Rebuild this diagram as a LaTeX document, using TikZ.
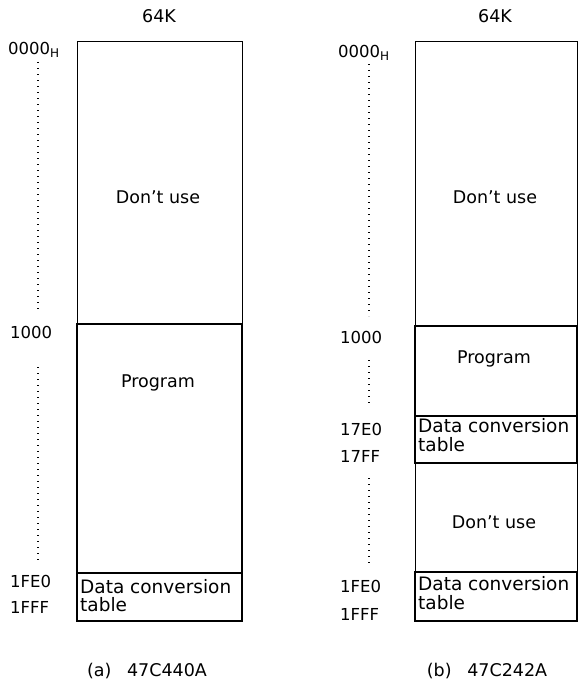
\documentclass[tikz,border=0pt]{standalone}
\usepackage{fontspec}
\setmainfont{DejaVu Sans}
\begin{document}
\begin{tikzpicture}[x=1pt,y=-1pt,
  lbl/.style={font=\fontsize{17.5}{19}\selectfont, inner sep=0pt},
  dct/.style={font=\fontsize{18.5}{20}\selectfont, inner sep=0pt, anchor=base west},
  addr/.style={font=\fontsize{16.5}{18}\selectfont, inner sep=0pt, anchor=base west},
  thinbox/.style={line width=1pt},
  thickbox/.style={line width=2pt},
  midbox/.style={line width=1.4pt},
  dots/.style={line width=1.1pt, dash pattern=on 1pt off 5pt}]
\useasboundingbox (0,0) rectangle (579,685);
% ---------- (a) ----------
\node[lbl, anchor=base] (ka) at (159,23) {64K};
\draw[thinbox] (77,42) rectangle (242,324);
\draw[thickbox] (77,324) rectangle (242,621);
\draw[midbox] (77,573) -- (242,573);
\node[lbl, anchor=base] (dua) at (158,203) {Don't use};
\node[lbl, anchor=base] (pa) at (158,387) {Program};
\node[dct] (dca1) at (80,593) {Data conversion};
\node[dct] (dca2) at (80,611) {table};
\node[addr] (a0) at (8,55) {0000\raisebox{-0.3ex}{\fontsize{12}{13}\selectfont H}};
\node[addr] (a1) at (10,338) {1000};
\node[addr] (a2) at (10,587) {1FE0};
\node[addr] (a3) at (10,613) {1FFF};
\coordinate (ad1) at (38,62); \coordinate (ad2) at (38,313);
\coordinate (ad3) at (38,367); \coordinate (ad4) at (38,560);
\draw[dots] (ad1) -- (ad2);
\draw[dots] (ad3) -- (ad4);
\node[lbl, anchor=base] (capa) at (147,676) {(a)\hspace{0.9em}47C440A};
% ---------- (b) ----------
\node[lbl, anchor=base] (kb) at (495,23) {64K};
\draw[thinbox] (415,42) rectangle (577,326);
\draw[thickbox] (415,326) -- (577,326);
\draw[midbox] (415,326) rectangle (577,416);
\draw[midbox] (415,416) rectangle (577,463);
\draw[thinbox] (415,463) rectangle (577,572);
\draw[thickbox] (415,572) rectangle (577,621);
\node[lbl, anchor=base] (dub) at (495,203) {Don't use};
\node[lbl, anchor=base] (pb) at (494,363) {Program};
\node[dct] (dcb1) at (418,432) {Data conversion};
\node[dct] (dcb2) at (418,451) {table};
\node[lbl, anchor=base] (dub2) at (494,528) {Don't use};
\node[dct] (dcb3) at (418,590) {Data conversion};
\node[dct] (dcb4) at (418,609) {table};
\node[addr] (b0) at (338,58) {0000\raisebox{-0.3ex}{\fontsize{12}{13}\selectfont H}};
\node[addr] (b1) at (340,343) {1000};
\node[addr] (b2) at (340,435) {17E0};
\node[addr] (b3) at (340,462) {17FF};
\node[addr] (b4) at (340,592) {1FE0};
\node[addr] (b5) at (340,620) {1FFF};
\coordinate (bd1) at (369,64); \coordinate (bd2) at (369,316);
\coordinate (bd3) at (369,360); \coordinate (bd4) at (369,405);
\coordinate (bd5) at (369,478); \coordinate (bd6) at (369,563);
\draw[dots] (bd1) -- (bd2);
\draw[dots] (bd3) -- (bd4);
\draw[dots] (bd5) -- (bd6);
\node[lbl, anchor=base] (capb) at (487,676) {(b)\hspace{0.9em}47C242A};
\end{tikzpicture}
\end{document}
